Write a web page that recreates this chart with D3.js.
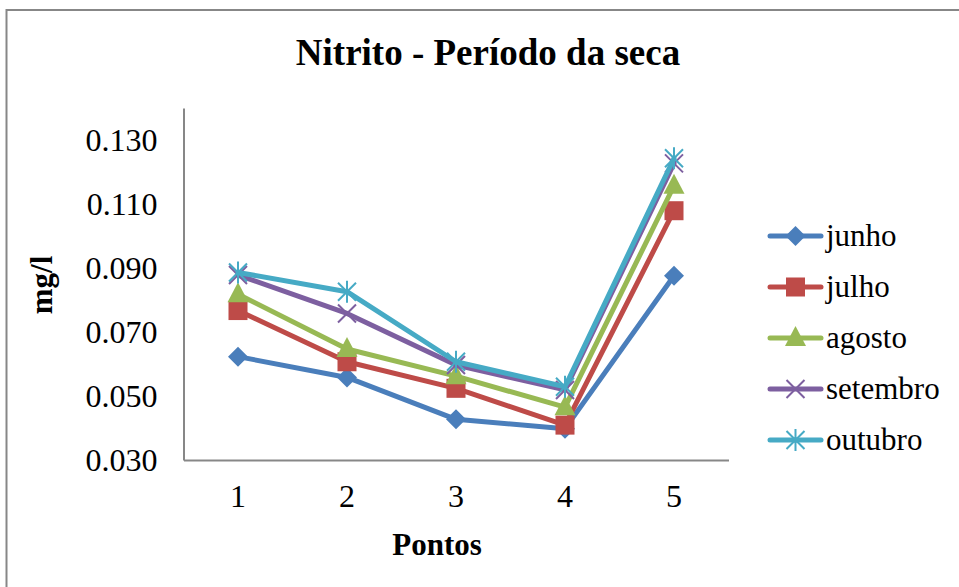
<!DOCTYPE html>
<html>
<head>
<meta charset="utf-8">
<script src="https://cdn.jsdelivr.net/npm/d3@7"></script>
<style>
  body { margin: 0; background: #fff; }
  text { font-family: "Liberation Serif", "Times New Roman", serif; fill: #000; }
</style>
</head>
<body>
<svg id="chart" width="959" height="587"></svg>
<script>
// chart data
let pontos = ["1", "2", "3", "4", "5"];
let meses = ["junho", "julho", "agosto", "setembro", "outubro"];
let junho = [0.0623, 0.0558, 0.0427, 0.0398, 0.0876];
let julho = [0.0767, 0.0607, 0.0524, 0.0409, 0.1079];
let agosto = [0.0818, 0.0647, 0.0562, 0.0465, 0.1157];
let setembro = [0.0878, 0.0758, 0.0597, 0.0519, 0.1227];
let outubro = [0.0886, 0.0826, 0.0607, 0.0529, 0.1243];
let yTicks = [0.030, 0.050, 0.070, 0.090, 0.110, 0.130];

let series = [junho, julho, agosto, setembro, outubro];
let colors = ["#4a7ebb", "#be4b48", "#98b954", "#7d5fa0", "#46aac5"];
let symbols = ["diamond", "square", "triangle", "cross", "star"];

let svg = d3.select("#chart");

// outer border (only left and top visible)
svg.append("rect")
  .attr("x", 6.5).attr("y", 10)
  .attr("width", 1000).attr("height", 1000)
  .attr("fill", "none").attr("stroke", "#878787").attr("stroke-width", 2);

let plotLeft = 183.5, plotRight = 728.5, plotTop = 108, plotBottom = 460;

let x = d3.scaleBand().domain(pontos).range([plotLeft, plotRight]);
let y = d3.scaleLinear().domain([0.03, 0.14]).range([plotBottom, plotTop]);

// axes
let yAxis = svg.append("g")
  .attr("transform", "translate(" + plotLeft + ",0)")
  .call(d3.axisLeft(y).tickValues(yTicks).tickSize(0).tickPadding(26).tickFormat(d3.format(".3f")));
yAxis.select(".domain").attr("stroke", "#878787").attr("stroke-width", 2);
yAxis.selectAll("text").style("font-size", "32px").attr("font-family", null);

let xAxis = svg.append("g")
  .attr("transform", "translate(0," + plotBottom + ")")
  .call(d3.axisBottom(x).tickSize(0).tickPadding(24));
xAxis.select(".domain").attr("stroke", "#878787").attr("stroke-width", 2);
xAxis.selectAll("text").style("font-size", "32px").attr("font-family", null);

// titles
svg.append("text")
  .attr("x", 488).attr("y", 65)
  .attr("text-anchor", "middle")
  .style("font-size", "37px").style("font-weight", "bold")
  .text("Nitrito - Período da seca");

svg.append("text")
  .attr("x", 437).attr("y", 555)
  .attr("text-anchor", "middle")
  .style("font-size", "31px").style("font-weight", "bold")
  .text("Pontos");

svg.append("text")
  .attr("transform", "translate(52,285) rotate(-90)")
  .attr("text-anchor", "middle")
  .style("font-size", "31px").style("font-weight", "bold")
  .text("mg/l");

// marker drawing
function drawMarker(g, type, color, cx, cy) {
  if (type == "diamond") {
    g.append("path").attr("d", "M" + cx + "," + (cy - 10) + "L" + (cx + 10) + "," + cy + "L" + cx + "," + (cy + 10) + "L" + (cx - 10) + "," + cy + "Z")
      .attr("fill", color);
  } else if (type == "square") {
    g.append("rect").attr("x", cx - 9.5).attr("y", cy - 9.5).attr("width", 19).attr("height", 19)
      .attr("fill", color);
  } else if (type == "triangle") {
    g.append("path").attr("d", "M" + cx + "," + (cy - 12) + "L" + (cx + 10.5) + "," + (cy + 8) + "L" + (cx - 10.5) + "," + (cy + 8) + "Z")
      .attr("fill", color);
  } else if (type == "cross") {
    g.append("path").attr("d", "M" + (cx - 9) + "," + (cy - 9) + "L" + (cx + 9) + "," + (cy + 9) + "M" + (cx + 9) + "," + (cy - 9) + "L" + (cx - 9) + "," + (cy + 9))
      .attr("stroke", color).attr("stroke-width", 2);
  } else {
    g.append("path").attr("d", "M" + (cx - 9) + "," + (cy - 9) + "L" + (cx + 9) + "," + (cy + 9) + "M" + (cx + 9) + "," + (cy - 9) + "L" + (cx - 9) + "," + (cy + 9) + "M" + cx + "," + (cy - 11) + "L" + cx + "," + (cy + 11))
      .attr("stroke", color).attr("stroke-width", 2);
  }
}

let line = d3.line()
  .x((d, i) => x(pontos[i]) + x.bandwidth() / 2)
  .y(d => y(d));

for (let s = 0; s < series.length; s++) {
  let g = svg.append("g");
  g.append("path")
    .datum(series[s])
    .attr("d", line)
    .attr("fill", "none")
    .attr("stroke", colors[s])
    .attr("stroke-width", 5)
    .attr("stroke-linejoin", "round")
    .attr("stroke-linecap", "round");
  for (let i = 0; i < series[s].length; i++) {
    drawMarker(g, symbols[s], colors[s], x(pontos[i]) + x.bandwidth() / 2, y(series[s][i]));
  }
}

// legend
for (let s = 0; s < meses.length; s++) {
  let ly = 236 + s * 51;
  let g = svg.append("g");
  g.append("line")
    .attr("x1", 770).attr("x2", 821).attr("y1", ly).attr("y2", ly)
    .attr("stroke", colors[s]).attr("stroke-width", 5).attr("stroke-linecap", "round");
  drawMarker(g, symbols[s], colors[s], 795.5, ly);
  g.append("text")
    .attr("x", 826).attr("y", ly + 10)
    .style("font-size", "31px")
    .text(meses[s]);
}
</script>
</body>
</html>
